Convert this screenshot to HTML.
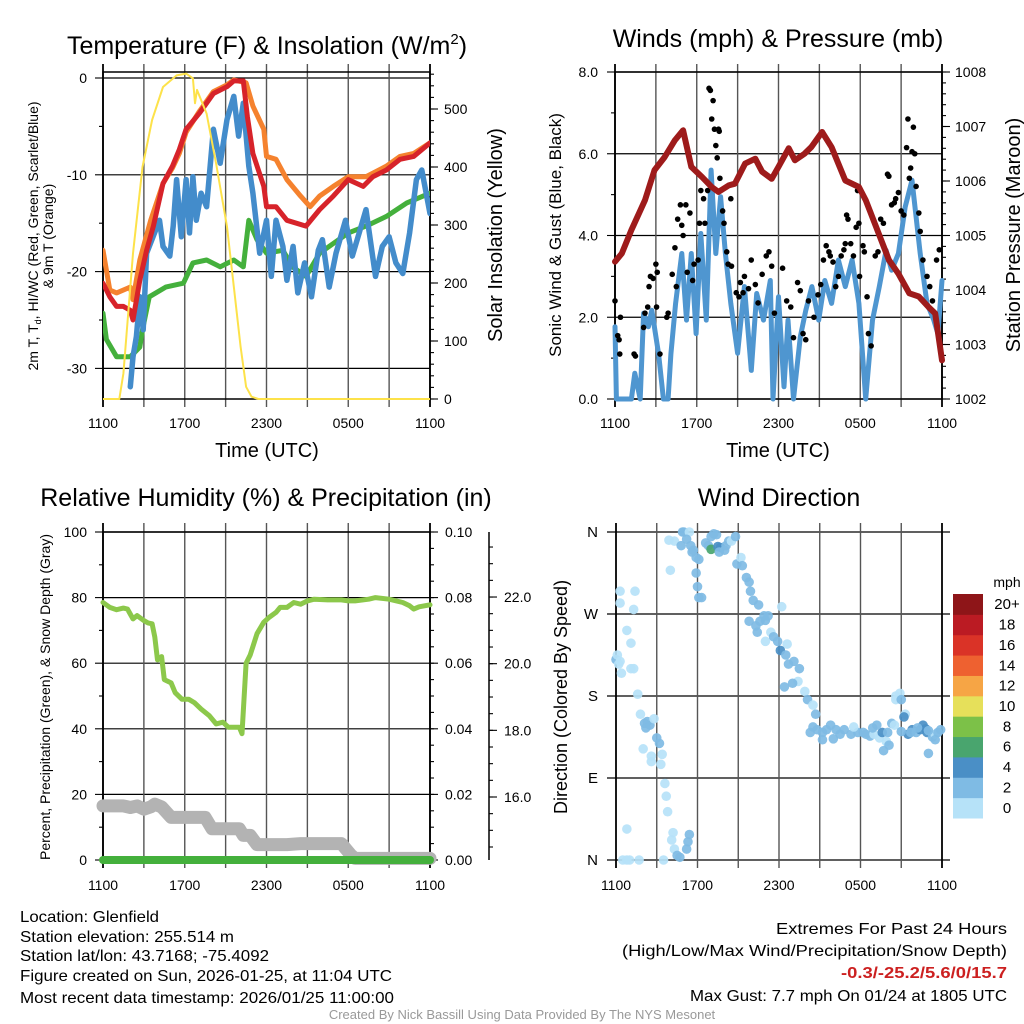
<!DOCTYPE html>
<html><head><meta charset="utf-8"><style>
html,body{margin:0;padding:0;background:#fff;}
svg{display:block;font-family:"Liberation Sans",sans-serif;}
</style></head><body>
<svg id="fig" width="1024" height="1024" viewBox="0 0 1024 1024" xmlns="http://www.w3.org/2000/svg">
<rect x="0" y="0" width="1024" height="1024" fill="#fff"/>
<g id="layer"></g>
<!-- Titles -->
<text x="267" y="54" font-size="25" text-anchor="middle">Temperature (F) &amp; Insolation (W/m<tspan font-size="15" dy="-10">2</tspan><tspan dy="10">)</tspan></text>
<text x="778" y="47" font-size="25" text-anchor="middle">Winds (mph) &amp; Pressure (mb)</text>
<text x="266" y="506" font-size="25" text-anchor="middle">Relative Humidity (%) &amp; Precipitation (in)</text>
<text x="779" y="506" font-size="25" text-anchor="middle">Wind Direction</text>
<!-- Axis titles -->
<text transform="translate(38,236) rotate(-90)" font-size="14" text-anchor="middle">2m T, T<tspan font-size="9" dy="3">d</tspan><tspan dy="-3">, HI/WC (Red, Green, Scarlet/Blue)</tspan></text>
<text transform="translate(53,236) rotate(-90)" font-size="14" text-anchor="middle">&amp; 9m T (Orange)</text>
<text transform="translate(502,235) rotate(-90)" font-size="20" text-anchor="middle">Solar Insolation (Yellow)</text>
<text x="267" y="457" font-size="20" text-anchor="middle">Time (UTC)</text>
<text transform="translate(561,235) rotate(-90)" font-size="17" text-anchor="middle">Sonic Wind &amp; Gust (Blue, Black)</text>
<text transform="translate(1020,235) rotate(-90)" font-size="20" text-anchor="middle">Station Pressure (Maroon)</text>
<text x="778" y="457" font-size="20" text-anchor="middle">Time (UTC)</text>
<text transform="translate(50,697) rotate(-90)" font-size="14" text-anchor="middle">Percent, Precipitation (Green), &amp; Snow Depth (Gray)</text>
<text transform="translate(567,697) rotate(-90)" font-size="18" text-anchor="middle">Direction (Colored By Speed)</text>
<!-- Footer -->
<g font-size="16">
<text x="20" y="922" textLength="139" lengthAdjust="spacingAndGlyphs">Location: Glenfield</text>
<text x="20" y="942" textLength="214" lengthAdjust="spacingAndGlyphs">Station elevation: 255.514 m</text>
<text x="20" y="961" textLength="249" lengthAdjust="spacingAndGlyphs">Station lat/lon: 43.7168; -75.4092</text>
<text x="20" y="981" textLength="372" lengthAdjust="spacingAndGlyphs">Figure created on Sun, 2026-01-25, at 11:04 UTC</text>
<text x="20" y="1003" textLength="374" lengthAdjust="spacingAndGlyphs">Most recent data timestamp: 2026/01/25 11:00:00</text>
</g>
<g font-size="16">
<text x="776" y="934" textLength="231" lengthAdjust="spacingAndGlyphs">Extremes For Past 24 Hours</text>
<text x="622" y="956" textLength="385" lengthAdjust="spacingAndGlyphs">(High/Low/Max Wind/Precipitation/Snow Depth)</text>
<text x="841" y="978" textLength="166" lengthAdjust="spacingAndGlyphs" fill="#cc2020" font-weight="bold">-0.3/-25.2/5.6/0/15.7</text>
<text x="690" y="1001" textLength="317" lengthAdjust="spacingAndGlyphs">Max Gust: 7.7 mph On 01/24 at 1805 UTC</text>
</g>
<text x="522" y="1019" font-size="13" fill="#999" text-anchor="middle">Created By Nick Bassill Using Data Provided By The NYS Mesonet</text>
</svg>
<script>
// ---------- Temperature panel data (hours since 1100 UTC) ----------
const redTime = [0,0.5,1,1.5,2,2.2,2.7,3.2,3.7,4.4,5.1,5.6,6.1,7.1,8.1,9.1,9.6,10.3,10.6,11,11.8,12,12.7,13.5,14.9,15.9,16.9,18,19.1,19.8,20.8,21.8,22.8,24];
const redTemp = [-21.2,-22.6,-23.6,-23.6,-24,-25,-20.9,-17.8,-15.3,-10.9,-9.1,-7.4,-5.3,-3.6,-1.6,-0.9,-0.3,-0.3,-4,-7.8,-11.2,-13.3,-13.3,-14.7,-15.3,-13.6,-12.2,-10.5,-11.2,-10.2,-9.5,-8.4,-8.1,-6.7];
const orangeTime = [0,0.5,1,2,2.2,2.7,3.5,4.4,5.1,5.6,6.1,7.1,8.1,9.1,9.6,10.5,11,11.8,12,12.7,13.5,14.5,15.2,15.9,16.9,18,19.3,20.8,21.8,22.8,24];
const orangeTemp = [-17.8,-21.9,-22.2,-21.6,-22.9,-18.8,-14.7,-10.9,-9.3,-7.8,-5.6,-3.4,-1.4,-0.7,-0.2,-0.5,-2.9,-5.3,-8.1,-8.4,-10.5,-12.2,-13.3,-12.2,-11.2,-10.2,-10.2,-9.1,-8.1,-7.8,-6.7];
const greenTime = [0,0.25,1,2,2.7,2.9,3.4,4.6,5.9,6.6,7.6,8.6,9.6,10.3,10.7,11.3,12,13.2,13.9,14.9,15.9,16.9,18,19.3,20.8,22.3,24];
const greenTemp = [-24.3,-27,-28.8,-28.8,-27.8,-26,-22.6,-21.6,-21.2,-19.1,-18.8,-19.5,-18.8,-19.5,-14.7,-16.7,-18.1,-17.8,-19.5,-20.5,-18.1,-17.1,-16,-15.3,-14.3,-12.9,-11.9];
const blueTime = [2.0,2.2,2.45,2.7,2.95,3.2,4.15,4.4,4.9,5.15,5.4,5.75,6.1,6.35,6.6,6.85,7.2,7.6,8.1,8.6,9.1,9.6,9.95,10.3,10.7,11.0,11.5,12.0,12.35,12.7,13.2,13.5,13.95,14.3,14.8,15.3,15.8,16.1,16.6,17.1,17.8,18.3,18.8,19.3,20.0,20.5,21.0,21.5,22.0,22.5,23.0,23.4,24];
const blueTemp = [-31.9,-28.8,-26.7,-22.6,-26,-18.1,-14.7,-17.4,-18.4,-15.3,-10.5,-16.4,-10.5,-16,-10.2,-14.7,-11.9,-13.3,-5.3,-8.8,-4.3,-1.9,-6,-2.6,-9.1,-11.9,-18.1,-14.7,-20.5,-14.7,-17.4,-20.9,-17.4,-22.2,-19.1,-22.6,-17.8,-16.7,-21.6,-18.1,-14.7,-18.4,-16,-13.6,-20.5,-17.4,-16.4,-19.1,-20.2,-16,-10.5,-9.5,-14];
const insTime = [0,1.2,1.5,2.2,2.9,3.6,4.4,5.4,6.1,6.6,6.75,6.9,7.6,8.3,9.1,9.6,10.1,10.5,10.9,11.4,24];
const insValue = [0,0,44,251,400,481,538,558,561,553,510,533,492,406,297,194,90,21,4,0,0];
const tempTicks = [0,-10,-20,-30];
const insTicks = [0,100,200,300,400,500];
const timeTickLabels = ["1100","1700","2300","0500","1100"];
// ---------- Wind panel data ----------
const windTime = [0,0.1,0.5,1.2,1.45,1.85,2.1,2.45,2.7,3.2,3.55,3.9,4.1,4.45,4.9,5.25,5.6,5.95,6.3,6.7,7.05,7.4,7.75,8.1,8.5,9.0,9.5,10.0,10.4,10.9,11.4,11.6,12.0,12.4,12.7,13.1,13.6,14.0,14.45,14.95,15.4,15.9,16.4,16.9,17.4,17.9,18.4,18.9,19.4,19.9,20.3,20.8,21.3,21.8,22.4,22.9,23.4,23.7,24];
const windSpeed = [1.77,0,0,0,0.63,0,2.1,1.77,2.17,1.1,0,0,1.1,2.34,3.56,1.93,3.56,1.6,4.05,1.93,5.6,3.56,4.95,3.56,2.34,1.12,2.75,0.7,2.58,1.93,2.9,0,2.5,0.3,1.93,0,1.52,2.17,2.75,1.93,2.9,2.34,3.4,2.75,3.4,2.34,0,1.93,2.75,3.64,3.15,3.56,4.7,5.35,3.56,2.34,1.93,1.6,2.9];
const gustTime = [0,0.2,0.3,0.4,0.35,1.4,1.5,2.1,2.2,2.4,2.5,2.6,2.8,3.0,3.1,3.05,3.3,3.8,3.9,4.2,4.4,4.5,4.6,4.8,4.9,5.0,5.2,5.3,5.5,5.7,5.8,6.1,6.2,6.3,6.5,6.6,6.8,6.9,7.0,7.2,7.1,7.3,7.4,7.6,7.5,7.7,7.65,7.9,8.0,8.2,8.3,8.5,8.55,8.9,9.1,9.2,9.4,9.5,9.8,10.0,10.3,10.5,10.8,11.1,11.3,11.5,11.7,12.3,12.6,12.9,13.1,13.4,13.6,13.8,14.0,14.2,14.6,14.9,15.1,15.3,15.5,15.7,15.8,16.0,16.2,16.4,16.6,16.8,16.9,17.0,17.1,17.3,17.5,17.7,17.9,17.8,17.95,18.2,18.3,18.5,18.6,18.8,19.1,19.3,19.5,19.7,20.0,20.1,20.3,20.5,20.6,20.8,21.0,21.2,21.4,21.5,21.6,21.7,21.8,21.9,22.0,22.1,22.3,22.4,22.6,22.9,23.1,23.3,23.6,23.8];
const gustSpeed = [2.4,1.55,1.45,2.0,1.1,1.1,1.05,1.75,2.1,2.25,2.75,3.0,2.95,3.3,3.1,2.25,1.1,2.0,2.1,3.05,3.7,2.75,4.4,4.75,4.25,4.0,4.75,3.1,4.55,2.9,3.3,3.4,4.3,5.1,4.9,4.3,5.1,7.6,7.55,7.3,6.85,6.6,6.2,6.6,5.9,5.4,6.55,4.6,4.3,3.6,3.3,4.9,3.25,2.6,2.5,2.85,2.6,3.0,2.7,3.4,2.8,2.35,3.05,3.5,3.6,3.25,2.1,3.2,2.4,2.25,1.5,2.85,2.65,1.6,1.45,2.4,2.0,2.55,2.8,3.4,3.75,3.6,3.5,3.35,2.75,3.0,3.5,3.65,3.8,4.5,4.4,3.8,3.5,4.2,4.3,5.1,3.0,3.75,3.6,2.5,1.6,1.3,3.5,3.6,4.4,4.3,5.5,5.45,4.75,4.8,4.9,5.05,4.6,4.5,6.15,6.85,5.4,5.65,6.05,6.65,6.0,5.2,4.55,4.1,3.4,3.0,2.75,2.4,3.4,3.65];
const presTime = [0,0.5,1.2,2.2,2.9,3.65,4.4,5.0,5.6,6.4,7.1,7.6,8.35,8.8,9.55,10.3,10.8,11.5,12.0,12.75,13.2,13.9,14.4,15.2,15.9,16.9,17.9,18.4,19.35,20.1,20.8,21.6,22.3,23.0,23.5,24];
const presValue = [1004.52,1004.67,1005.1,1005.65,1006.2,1006.44,1006.75,1006.93,1006.26,1006.07,1005.89,1005.8,1005.92,1005.95,1006.32,1006.41,1006.17,1006.04,1006.26,1006.6,1006.38,1006.5,1006.62,1006.9,1006.62,1006.01,1005.89,1005.65,1005.04,1004.55,1004.3,1003.94,1003.88,1003.69,1003.57,1002.71];
const windTicks = [0,2,4,6,8];
const presTicks = [1002,1003,1004,1005,1006,1007,1008];
// ---------- Humidity panel data ----------
const rhTime = [0,0.5,1,1.5,1.8,2.2,2.5,3.0,3.3,3.6,3.8,4.0,4.3,4.5,5.0,5.3,5.8,6.3,6.7,7.2,7.8,8.3,8.8,9.2,9.7,10.0,10.2,10.5,10.8,11.3,11.8,12.2,12.7,13.0,13.5,14.0,14.5,15.0,15.5,16.5,17.5,18.0,18.5,19.5,20.0,21.0,22.0,22.5,22.8,23.2,24];
const rhValue = [78.5,77,76.3,76.8,76.5,73.5,74.5,73,72.3,72,68,61,62,55,54,51,49,49,48,46,44,41.5,42,40.5,40.5,40.5,38.5,60,62.5,69,72.5,74,75.5,77,77,78.5,78,79,79.5,79.3,79.3,79,79,79.5,80,79.5,78.5,77.5,76.5,77.2,77.8];
const snowTime = [0,1.5,2.0,2.5,3.0,3.5,3.8,4.3,5.0,7.5,8.0,10.0,10.3,10.8,11.3,13.5,14.5,17.5,18.2,18.5,24];
const snowValue = [16.5,16.5,16,16.5,15.5,16.2,17,16.2,13,13,9.5,9.5,7.5,7.5,4.7,4.7,5,5,1.5,0.5,0.5];
const precipTime = [0,24];
const precipValue = [0,0];
const rhTicks = [0,20,40,60,80,100];
const precipTicks = ["0.00","0.02","0.04","0.06","0.08","0.10"];
const snowTicks = [16,18,20,22];
// ---------- Wind direction data ----------
const dirTime = [0,0.1,0.2,0.4,0.3,0.3,0.3,0.8,1.1,1.3,1.4,1.1,1.3,1.6,1.8,2.1,2.3,2.5,2.2,2.8,3.0,3.2,2.0,2.6,2.6,3.4,3.3,3.6,3.7,3.8,0.8,0.5,0.8,1.0,1.7,3.5,4.2,4.1,4.3,4.5,4.7,5.2,5.3,5.4,4.3,3.9,4.0,4.9,5.0,5.4,4.8,5.2,5.5,5.6,5.7,5.9,6.1,5.9,6.0,6.1,6.3,6.6,6.8,7.0,7.2,7.4,7.0,7.5,7.7,7.6,8.0,8.1,8.3,8.5,8.8,8.9,9.2,9.3,9.6,9.8,9.9,10.1,10.5,9.8,10.3,10.6,10.9,10.4,11.2,11.4,11.0,12.2,11.0,11.6,11.9,12.6,12.1,12.5,12.7,13.1,13.5,13.4,12.4,13.0,13.9,14.1,14.5,14.7,14.8,15.2,15.5,15.8,16.2,16.8,17.3,17.8,18.2,18.4,18.7,19.0,19.4,19.6,20.0,20.3,20.5,20.6,20.6,20.9,21.0,21.3,21.2,21.5,21.8,22.1,22.4,22.6,22.8,22.9,23.3,23.5,23.7,23.9,23.5,23.0,19.9,19.7,20.1,17.5,16.0,15.2,14.5,14.3,16.5,18.9,19.2,21.0,21.7,22.2,23.0];
const dirDeg = [220,225,215,205,218,295,282,252,238,275,295,210,210,182,160,150,152,148,145,155,134,128,122,114,108,116,105,84,70,53,34,0,0,0,0,0,30,22,12,5,3,12,20,28,350,351,318,360,360,360,345,352,345,338,340,332,330,315,300,288,288,348,345,355,358,357,341,344,343,338,340,345,350,350,355,325,332,323,310,305,295,285,280,262,257,262,268,250,268,250,240,278,263,245,240,237,230,225,215,218,210,196,190,194,185,176,170,160,143,140,143,148,143,143,138,140,140,138,136,138,134,140,140,150,148,176,180,183,176,160,157,138,143,140,143,148,144,140,135,138,140,143,132,117,130,120,126,146,133,132,146,140,138,145,148,141,140,145,142];
const dirSpeed = [3,1,1,1,1,1,1,1,1,1,1,1,1,1,1,3,3,3,3,1,3,3,1,1,1,1,1,1,1,1,1,1,1,1,1,1,1,1,1,3,3,3,3,3,1,1,1,3,3,1,3,3,3,3,3,3,3,3,3,3,3,3,3,3,3,3,7,5,5,3,3,3,3,1,3,3,1,3,3,3,3,3,3,3,3,3,3,3,3,1,1,1,3,3,3,1,5,3,3,3,3,1,3,3,1,3,1,3,3,3,3,3,3,3,3,3,3,3,3,1,1,5,3,3,1,1,1,1,3,1,5,5,5,3,5,5,5,5,3,1,3,3,3,3,1,3,3,1,3,3,3,3,3,3,3,3,3,3,3,3,3];
const speedBins = ["0","2","4","6","8","10","12","14","16","18","20+"];
const binColors = ["#b6e2f8","#7fbbe4","#4a8fc6","#49a56e","#7cc148","#e6e05a","#f6a545","#ee6130","#da3327","#bb1b23","#8e1518"];
const dirLabels = ["N","E","S","W","N"];

const NS = "http://www.w3.org/2000/svg";
const layer = document.getElementById('layer');
function mk(tag, attrs, parent){
  const e = document.createElementNS(NS, tag);
  for (const k in attrs) e.setAttribute(k, attrs[k]);
  (parent || layer).appendChild(e);
  return e;
}
function txt(x,y,s,size,anchor,parent){
  const e = mk('text',{x:x,y:y,'font-size':size,'text-anchor':anchor},parent);
  e.textContent = s;
  return e;
}
function linePath(ts, vs, fx, fy){
  let d = '';
  for (let i=0;i<ts.length;i++) d += (i?'L':'M') + fx(ts[i]).toFixed(1) + ',' + fy(vs[i]).toFixed(1);
  return d;
}
const xL = t => 103 + t*327/24;
const xR = t => 615 + t*327/24;
const xD = t => 616 + t*326/24;
const yT = v => 78 - v*9.68;
const yIns = w => 399 - w*0.58;
const yW = v => 399 - v*40.875;
const yP = p => 399 - (p-1002)*54.5;
const yRH = v => 860 - v*3.28;
const yPr = v => 860 - v*3280;
const ySnow = v => 797 - (v-16)*33.33;
const yD = d => 860 - d*328/360;

function frameGrid(name, x0, x1, y0, y1, hys, vTop, vBot, xf){
  const g = mk('g',{});
  
  
  hys.forEach(y=>{
    const l = mk('line',{x1:x0,x2:x1,y1:y,y2:y,stroke:'#000','stroke-width':1.2},g);
    
    
  });
  for (let t=0;t<=24;t+=3){
    const x = xf(t);
    const l = mk('line',{x1:x,x2:x,y1:vTop,y2:vBot,stroke:(t===0||t===24)?'#000':'#555','stroke-width':(t===0||t===24)?1.8:1.4},g);
    
    
  }
  const f = mk('rect',{x:x0,y:y0,width:x1-x0,height:y1-y0,fill:'none',stroke:'#000','stroke-width':1.5},g);
  
  
  return g;
}
function xLabels(name, xf, y){
  const g = mk('g',{});
  
  
  timeTickLabels.forEach((s,i)=>{
    const t = txt(xf(i*6), y, s, 14, 'middle', g);
    
    
  });
}
function tick(g, x1, x2, y, name){
  const l = mk('line',{x1:x1,x2:x2,y1:y,y2:y,stroke:'#000','stroke-width':1.1},g);
  
  
}

// ===== Temperature panel =====
frameGrid('temperature', 103, 430, 72, 399, tempTicks.map(yT), 64, 407, xL);
xLabels('temperature', xL, 428);
{
  const g = mk('g',{});
  
  
  tempTicks.forEach(v=>{
    tick(g, 95, 103, yT(v), 'temperature-y-tick');
    const t = txt(87, yT(v)+5, String(v), 14, 'end', g);
    
    
  });
  for (let v=-5; v>-35; v-=10) tick(g, 99, 103, yT(v), 'temperature-minor-tick');
  const g2 = mk('g',{});
  
  
  for (let w=0; w<=560; w+=20) tick(g2, 430, 434, yIns(w), 'insolation-minor-tick');
  insTicks.forEach(w=>{
    tick(g2, 430, 438, yIns(w), 'insolation-y-tick');
    const t = txt(444, yIns(w)+5, String(w), 14, 'start', g2);
    
    
  });
}
{
  const clip = mk('clipPath',{id:'clipTL'});
  mk('rect',{x:103,y:60,width:327,height:345},clip);
  const g = mk('g',{'clip-path':'url(#clipTL)','stroke-linejoin':'round','stroke-linecap':'round',fill:'none'});
  
  
  const gr = mk('path',{d:linePath(greenTime,greenTemp,xL,yT),stroke:'#44b03c','stroke-width':5},g);
  
  
  const bl = mk('path',{d:linePath(blueTime,blueTemp,xL,yT),stroke:'#438ccb','stroke-width':5.5},g);
  
  
  const or = mk('path',{d:linePath(orangeTime,orangeTemp,xL,yT),stroke:'#f5822e','stroke-width':5},g);
  
  
  const rd = mk('path',{d:linePath(redTime,redTemp,xL,yT),stroke:'#d7232a','stroke-width':5},g);
  
  
  const yl = mk('path',{d:linePath(insTime,insValue,xL,yIns),stroke:'#fde24a','stroke-width':2},g);
  
  
}

// ===== Wind panel =====
frameGrid('wind', 615, 942, 72, 399, windTicks.map(yW), 64, 407, xR);
xLabels('wind', xR, 428);
{
  const g = mk('g',{});
  
  
  windTicks.forEach(v=>{
    tick(g, 607, 615, yW(v), 'wind-y-tick');
    const t = txt(598, yW(v)+5, v.toFixed(1), 14, 'end', g);
    
    
  });
  for (let v=1; v<8; v+=2) tick(g, 611, 615, yW(v), 'wind-minor-tick');
  const g2 = mk('g',{});
  
  
  for (let p=1002; p<=1008.01; p+=0.2) tick(g2, 942, 946, yP(p), 'pressure-minor-tick');
  presTicks.forEach(p=>{
    tick(g2, 942, 950, yP(p), 'pressure-y-tick');
    const t = txt(955, yP(p)+5, String(p), 14, 'start', g2);
    
    
  });
}
{
  const clip = mk('clipPath',{id:'clipTR'});
  mk('rect',{x:612,y:60,width:334,height:345},clip);
  const g = mk('g',{'clip-path':'url(#clipTR)','stroke-linejoin':'round','stroke-linecap':'round',fill:'none'});
  
  
  const bl = mk('path',{d:linePath(windTime,windSpeed,xR,yW),stroke:'#4f96d0','stroke-width':5},g);
  
  
  for (let i=0;i<gustTime.length;i++){
    const c = mk('circle',{cx:xR(gustTime[i]),cy:yW(gustSpeed[i]),r:2.8,fill:'#000'},g);
    
    
  }
  const pr = mk('path',{d:linePath(presTime,presValue,xR,yP),stroke:'#9e1b1b','stroke-width':6},g);
  
  
}

// ===== Humidity panel =====
frameGrid('humidity', 103, 430, 532, 860, rhTicks.map(yRH), 523, 868, xL);
xLabels('humidity', xL, 890);
{
  const g = mk('g',{});
  
  
  rhTicks.forEach(v=>{
    tick(g, 95, 103, yRH(v), 'humidity-y-tick');
    const t = txt(87, yRH(v)+5, String(v), 14, 'end', g);
    
    
  });
  for (let v=10; v<100; v+=20) tick(g, 99, 103, yRH(v), 'humidity-minor-tick');
  const g2 = mk('g',{});
  
  
  for (let v=0; v<=0.1001; v+=0.005) tick(g2, 430, 434, yPr(v), 'precip-minor-tick');
  precipTicks.forEach(s=>{
    const v = parseFloat(s);
    tick(g2, 430, 438, yPr(v), 'precip-y-tick');
    const t = txt(445, yPr(v)+5, s, 14, 'start', g2);
    
    
  });
  const g3 = mk('g',{});
  
  
  const ax = mk('line',{x1:489,x2:489,y1:532,y2:860,stroke:'#000','stroke-width':1.5},g3);
  
  
  for (let v=14.5; v<=23.5; v+=0.5) tick(g3, 489, 493, ySnow(v), 'snow-depth-minor-tick');
  snowTicks.forEach(v=>{
    tick(g3, 489, 497, ySnow(v), 'snow-depth-y-tick');
    const t = txt(504, ySnow(v)+5, v.toFixed(1), 14, 'start', g3);
    
    
  });
}
{
  const g = mk('g',{'stroke-linejoin':'round','stroke-linecap':'round',fill:'none'});
  
  
  const sn = mk('path',{d:linePath(snowTime,snowValue,xL,yRH),stroke:'#b3b3b3','stroke-width':13},g);
  
  
  const pc = mk('path',{d:linePath(precipTime,precipValue,xL,yPr),stroke:'#44b03c','stroke-width':8},g);
  
  
  const rh = mk('path',{d:linePath(rhTime,rhValue,xL,yRH),stroke:'#8cc84b','stroke-width':5},g);
  
  
}

// ===== Wind direction panel =====
{
  const g = mk('g',{});
  
  
  dirLabels.forEach((s,i)=>{
    const y = yD(i*90);
    const l = mk('line',{x1:607,x2:950,y1:y,y2:y,stroke:'#000','stroke-width':1.2},g);
    
    
    const t = txt(598, y+5, s, 15, 'end', g);
    
    
  });
  for (let t=0;t<=24;t+=3){
    const x = xD(t);
    const l = mk('line',{x1:x,x2:x,y1:523,y2:868,stroke:(t===0||t===24)?'#000':'#555','stroke-width':(t===0||t===24)?1.8:1.4},g);
    
    
  }
}
xLabels('direction', xD, 890);
{
  const g = mk('g',{});
  
  
  for (let i=0;i<dirTime.length;i++){
    const bin = Math.min(10, Math.floor(dirSpeed[i]/2));
    const c = mk('circle',{cx:xD(dirTime[i]),cy:yD(dirDeg[i]),r:4.8,fill:binColors[bin],'fill-opacity':0.92},g);
    
    
  }
}
{
  const g = mk('g',{});
  
  
  const h = (818-594)/11;
  for (let i=0;i<11;i++){
    const y = 818 - (i+1)*h;
    const r = mk('rect',{x:953,y:y,width:30,height:h+0.5,fill:binColors[i]},g);
    
    
    const t = txt(1007, y+h/2+5, speedBins[i], 15, 'middle', g);
    
    
  }
  const u = txt(1007, 587, 'mph', 14, 'middle', g);
  
  
}
</script>
</body></html>
